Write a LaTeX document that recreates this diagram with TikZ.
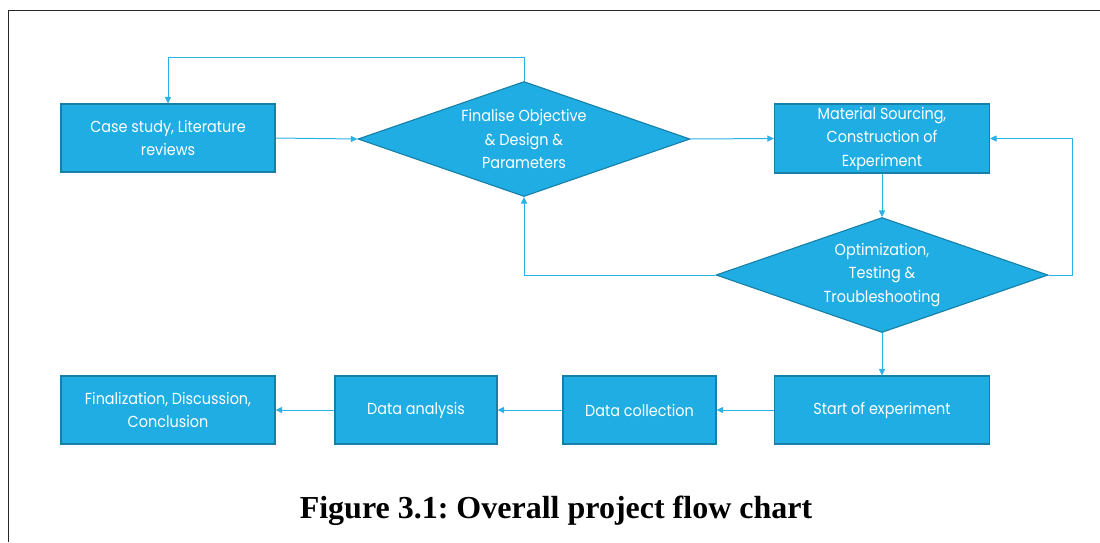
\documentclass[tikz,border=0pt]{standalone}
\usepackage{fontspec}
\setmainfont{Liberation Serif}
\newfontfamily\boxfont{Poppins}[FakeStretch=0.9]
\usetikzlibrary{shapes.geometric,arrows.meta}
\definecolor{stepfill}{HTML}{1FADE3}
\definecolor{stepedge}{HTML}{1680A8}
\definecolor{flowline}{HTML}{2AB2E6}
\tikzset{
  boxtext/.style={text=white, align=center,
    font=\boxfont\fontsize{16}{23.5}\selectfont},
  stepbox/.style={boxtext, draw=stepedge, fill=stepfill, line width=1.1pt,
    rectangle, inner sep=0pt},
  decision/.style={boxtext, draw=stepedge, fill=stepfill, line width=1.1pt,
    diamond, inner sep=0pt, shape aspect=2.887,
    minimum width=332pt, minimum height=115pt},
  flow/.style={draw=flowline, line width=1pt,
    -{Triangle[length=6.5pt,width=6pt]}},
}
\begin{document}
\begin{tikzpicture}[x=1pt,y=-1pt]
  \useasboundingbox (0,0) rectangle (1100,542);
  % page frame
  \draw[black!85, line width=1.4pt] (1100,10.5) -- (8.5,10.5) -- (8.5,542);

  % steps
  \node[stepbox, minimum width=214pt, minimum height=68pt] (lit) at (168,138) {Case study, Literature\\reviews};
  \node[decision] (obj) at (524,139) {Finalise Objective\\\& Design \&\\Parameters};
  \node[stepbox, minimum width=215pt, minimum height=69pt] (mat) at (882,138.5) {Material Sourcing,\\Construction of\\Experiment};
  \node[decision] (opt) at (882,275) {Optimization,\\Testing \&\\Troubleshooting};
  \node[stepbox, minimum width=215pt, minimum height=68pt] (start) at (882,410) {Start of experiment};
  \node[stepbox, minimum width=153pt, minimum height=68pt] (coll) at (639.5,410) {Data collection};
  \node[stepbox, minimum width=162pt, minimum height=68pt] (ana) at (416,410) {Data analysis};
  \node[stepbox, minimum width=214pt, minimum height=68pt] (fin) at (168,410) {Finalization, Discussion,\\Conclusion};

  % connectors
  \draw[flow] (lit.east) -- (obj.west);
  \draw[flow] (obj.east) -- (mat.west);
  \draw[flow] (obj.north) |- (168,57) -- (lit.north);
  \draw[flow] (mat.south) -- (opt.north);
  \draw[flow] (opt.west) -| (obj.south);
  \draw[flow] (opt.east) -- (1072,275) |- (mat.east);
  \draw[flow] (opt.south) -- (start.north);
  \draw[flow] (start.west) -- (coll.east);
  \draw[flow] (coll.west) -- (ana.east);
  \draw[flow] (ana.west) -- (fin.east);

  % caption
  \node[font=\bfseries\fontsize{32}{36}\selectfont] (cap) at (556,511) {\frenchspacing Figure 3.1: Overall project flow chart};
\end{tikzpicture}
\end{document}
